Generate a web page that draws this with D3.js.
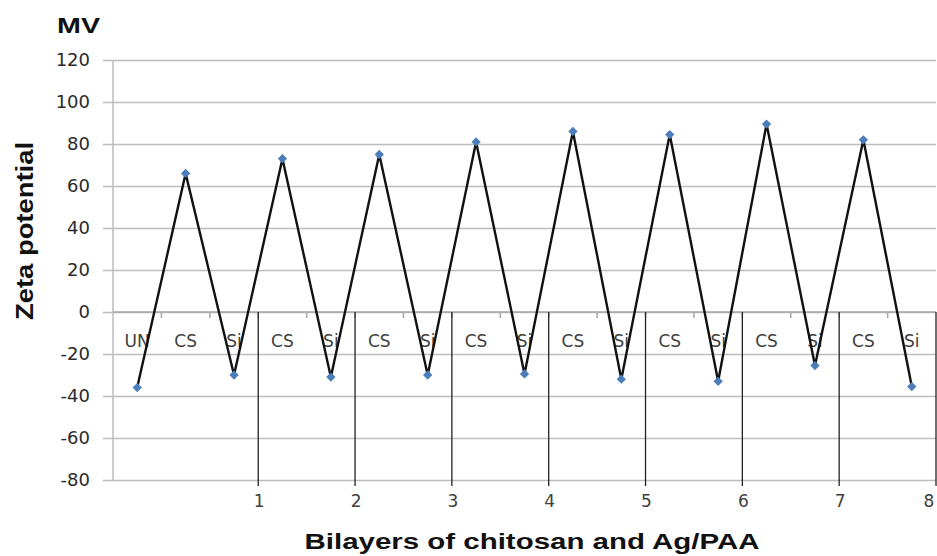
<!DOCTYPE html>
<html><head><meta charset="utf-8">
<script src="https://cdn.jsdelivr.net/npm/d3@7"></script>
<style>html,body{margin:0;padding:0;background:#fff;}svg{display:block;}</style>
</head><body>
<svg id="chart" width="937" height="556"></svg>
<script>
// ---- data ----
const categories = ["UN","CS","Si","CS","Si","CS","Si","CS","Si","CS","Si","CS","Si","CS","Si","CS","Si"];
const zeta = [-36, 66, -30, 73, -31, 75, -30, 81, -29.5, 86, -32, 84.5, -33, 89.5, -25.5, 82, -35.5];
const yTicks = [-80,-60,-40,-20,0,20,40,60,80,100,120];
const bilayerTicks = [1,2,3,4,5,6,7,8];
const yTitle = "Zeta potential";
const xTitle = "Bilayers of chitosan and Ag/PAA";
const unitLabel = "MV";

const svg = d3.select("#chart");
const L = 113, R = 936, T = 60, B = 480;
const x = d3.scaleBand().domain(d3.range(categories.length)).range([L, R]).padding(0);
const x2 = d3.scaleLinear().domain([-0.5, 8]).range([L, R]);
const y = d3.scaleLinear().domain([-80, 120]).range([B, T]);
const font = "'Liberation Sans', Arial, sans-serif";
const tickFont = "'DejaVu Sans', sans-serif";

// gridlines + y ticks
const yAxis = d3.axisLeft(y).tickValues(yTicks).tickSize(-(R - L)).tickPadding(23).tickFormat(d => String(d));
const gy = svg.append("g").attr("transform", `translate(${L},0)`).call(yAxis);
gy.select(".domain").remove();
gy.selectAll(".tick line").attr("x1", -10).attr("stroke", "#bdbdbd").attr("stroke-width", 1.5);
gy.selectAll(".tick text").attr("font-family", tickFont).attr("font-size", 18).attr("fill", "#2a2a2a");
// y axis line
svg.append("line").attr("x1", L).attr("x2", L).attr("y1", T).attr("y2", B).attr("stroke", "#bdbdbd").attr("stroke-width", 1.5);

// category axis at y=0
const gx = svg.append("g").attr("transform", `translate(0,${y(0)})`);
gx.append("line").attr("x1", L).attr("x2", R).attr("stroke", "#a8a8a8").attr("stroke-width", 1.5);
gx.selectAll("line.ct").data(d3.range(1, categories.length)).join("line").attr("class", "ct")
  .attr("x1", d => x(d)).attr("x2", d => x(d)).attr("y1", 0).attr("y2", 6)
  .attr("stroke", "#a8a8a8").attr("stroke-width", 1.5);
gx.selectAll("text").data(categories).join("text")
  .attr("x", (d, i) => x(i) + x.bandwidth() / 2).attr("y", 35)
  .attr("text-anchor", "middle").attr("font-family", tickFont).attr("font-size", 17).attr("fill", "#404040")
  .text(d => d);

// secondary bilayer axis
const gb = svg.append("g");
gb.selectAll("line").data(bilayerTicks).join("line")
  .attr("x1", d => x2(d)).attr("x2", d => x2(d)).attr("y1", y(0)).attr("y2", B + 6)
  .attr("stroke", "#222").attr("stroke-width", 1.3);
gb.selectAll("text").data(bilayerTicks).join("text")
  .attr("x", d => Math.min(x2(d) + 1, 929)).attr("y", 507).attr("text-anchor", "middle")
  .attr("font-family", tickFont).attr("font-size", 17).attr("fill", "#404040").text(d => d);

// line
const line = d3.line().x((d, i) => x(i) + x.bandwidth() / 2).y(d => y(d));
svg.append("path").datum(zeta).attr("d", line).attr("fill", "none").attr("stroke", "#111").attr("stroke-width", 2.4);

// markers
svg.selectAll("path.mk").data(zeta).join("path").attr("class", "mk")
  .attr("d", d3.symbol().type(d3.symbolDiamond2).size(55))
  .attr("transform", (d, i) => `translate(${x(i) + x.bandwidth() / 2},${y(d)})`)
  .attr("fill", "#4a7ebb");

// titles
svg.append("text").attr("x", 57).attr("y", 33).attr("font-family", font).attr("font-weight", "bold")
  .attr("font-size", 22).attr("textLength", 43).attr("lengthAdjust", "spacingAndGlyphs").attr("fill", "#111").text(unitLabel);
svg.append("text").attr("transform", "translate(33,231) rotate(-90)").attr("text-anchor", "middle")
  .attr("font-family", font).attr("font-weight", "bold").attr("font-size", 23)
  .attr("textLength", 178).attr("lengthAdjust", "spacingAndGlyphs").attr("fill", "#111").text(yTitle);
svg.append("text").attr("x", 532).attr("y", 549).attr("text-anchor", "middle")
  .attr("font-family", font).attr("font-weight", "bold").attr("font-size", 22)
  .attr("textLength", 455).attr("lengthAdjust", "spacingAndGlyphs").attr("fill", "#111").text(xTitle);
</script>
</body></html>
